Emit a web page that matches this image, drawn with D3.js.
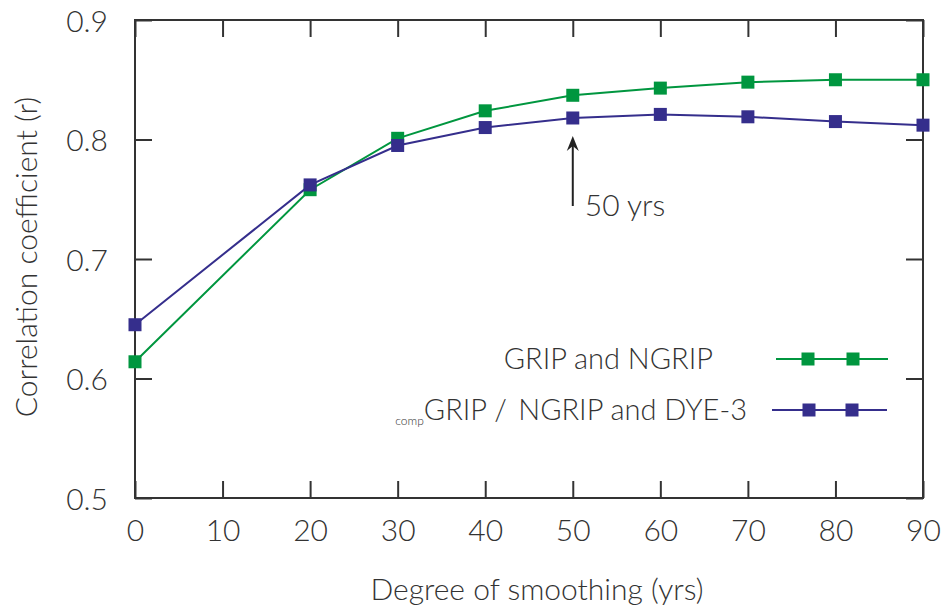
<!DOCTYPE html>
<html><head><meta charset="utf-8">
<script src="https://cdn.jsdelivr.net/npm/d3@7"></script>
<style>
html,body{margin:0;padding:0;background:#fff;}
text{font-family:Lato,"Open Sans",sans-serif;fill:#333;font-weight:300;}
</style></head>
<body><svg id="c" width="948" height="613"></svg>
<script>
const smoothing = [0, 20, 30, 40, 50, 60, 70, 80, 90];
const gripNgrip = [0.614, 0.758, 0.801, 0.824, 0.837, 0.843, 0.848, 0.850, 0.850];
const compDye3 = [0.645, 0.762, 0.795, 0.810, 0.818, 0.821, 0.819, 0.815, 0.812];
const xTicks = [0, 10, 20, 30, 40, 50, 60, 70, 80, 90];
const yTicks = [0.5, 0.6, 0.7, 0.8, 0.9];
const seriesNames = ["GRIP and NGRIP", "GRIP / \u2009NGRIP and DYE-3"];
const colors = ["#00963f", "#352e8c"];
const markedX = 50;

const svg = d3.select("#c");
const L = 135, R = 923, T = 20, B = 498;
const x = d3.scaleLinear().domain([0, 90]).range([L, R]);
const y = d3.scaleLinear().domain([0.5, 0.9]).range([B, T]);
const axisColor = "#333";
const tl = 17;

// frame
svg.append("rect").attr("x", L).attr("y", T).attr("width", R - L).attr("height", B - T)
  .attr("fill", "none").attr("stroke", axisColor).attr("stroke-width", 2);

// axes via d3
const xb = svg.append("g").attr("transform", `translate(0,${B})`)
  .call(d3.axisBottom(x).tickValues(xTicks).tickFormat(d3.format("d")).tickSizeInner(-tl).tickSizeOuter(0).tickPadding(22));
const xt = svg.append("g").attr("transform", `translate(0,${T})`)
  .call(d3.axisTop(x).tickValues(xTicks).tickFormat("").tickSizeInner(-tl).tickSizeOuter(0));
const yl = svg.append("g").attr("transform", `translate(${L},0)`)
  .call(d3.axisLeft(y).tickValues(yTicks).tickFormat(d3.format(".1f")).tickSizeInner(-tl).tickSizeOuter(0).tickPadding(27));
const yr = svg.append("g").attr("transform", `translate(${R},0)`)
  .call(d3.axisRight(y).tickValues(yTicks).tickFormat("").tickSizeInner(-tl).tickSizeOuter(0));
[xb, xt, yl, yr].forEach(g => {
  g.select(".domain").remove();
  g.selectAll(".tick line").attr("stroke", axisColor).attr("stroke-width", 2);
  g.selectAll(".tick text").attr("fill", "#333").style("font-size", "30px").style("font-family", "Lato").style("font-weight", "300");
});
yl.selectAll(".tick text").attr("dy", "0.38em");

// axis titles
svg.append("text").attr("x", 537).attr("y", 600).attr("text-anchor", "middle")
  .style("font-size", "30px").text("Degree of smoothing (yrs)");
svg.append("text").attr("transform", `translate(37,${257}) rotate(-90)`).attr("text-anchor", "middle")
  .style("font-size", "30px").text("Correlation coefficient (r)");

// series
const series = [gripNgrip, compDye3];
const line = d3.line().x((d, i) => x(smoothing[i])).y(d => y(d));
const ms = 13;
series.forEach((vals, si) => {
  svg.append("path").datum(vals).attr("d", line).attr("fill", "none")
    .attr("stroke", colors[si]).attr("stroke-width", 2);
  svg.selectAll(null).data(vals).enter().append("rect")
    .attr("x", (d, i) => x(smoothing[i]) - ms / 2).attr("y", d => y(d) - ms / 2)
    .attr("width", ms).attr("height", ms).attr("fill", colors[si]);
});

// annotation arrow
const ax = x(markedX);
const tipY = y(compDye3[smoothing.indexOf(markedX)]) + 18;
svg.append("line").attr("x1", ax).attr("x2", ax).attr("y1", tipY + 70).attr("y2", tipY + 8)
  .attr("stroke", "#222").attr("stroke-width", 2);
svg.append("path").attr("d", `M${ax},${tipY} L${ax - 6},${tipY + 15} L${ax},${tipY + 10} L${ax + 6},${tipY + 15} Z`)
  .attr("fill", "#222");
svg.append("text").attr("x", ax + 12).attr("y", tipY + 80).style("font-size", "30px").text("50 yrs");

// legend
const legY = [359, 410];
const legLine = [[776, 888], [772, 887]];
const legMk = [[808, 853], [809, 852]];
legY.forEach((ly, si) => {
  svg.append("line").attr("x1", legLine[si][0]).attr("x2", legLine[si][1]).attr("y1", ly).attr("y2", ly)
    .attr("stroke", colors[si]).attr("stroke-width", 2);
  legMk[si].forEach(mx => svg.append("rect").attr("x", mx - ms / 2).attr("y", ly - ms / 2)
    .attr("width", ms).attr("height", ms).attr("fill", colors[si]));
});
svg.append("text").attr("x", 713).attr("y", 369).attr("text-anchor", "end").style("font-size", "29px").text(seriesNames[0]);
const t2 = svg.append("text").attr("x", 747).attr("y", 420).attr("text-anchor", "end").style("font-size", "29px");
t2.append("tspan").style("font-size", "12px").attr("dy", "5").text("comp");
t2.append("tspan").attr("dy", "-5").text(seriesNames[1]);
</script></body></html>
